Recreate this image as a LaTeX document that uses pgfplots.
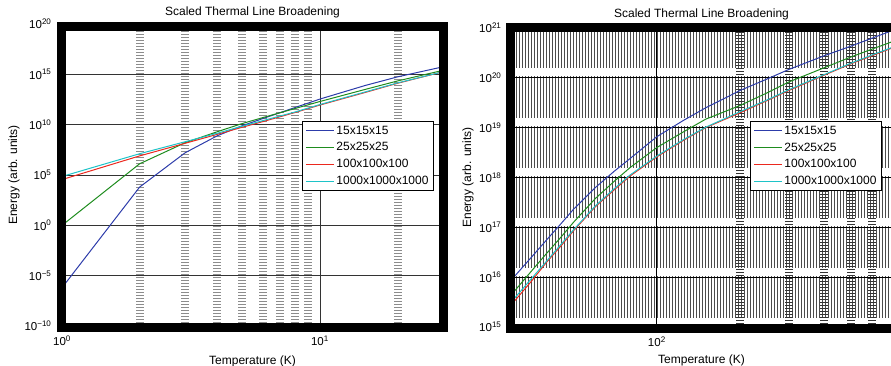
\documentclass[border=0pt]{standalone}
\usepackage{pgfplots}
\pgfplotsset{compat=1.18}
\usepackage{fontspec}
\setmainfont{Liberation Sans}
\usetikzlibrary{patterns.meta}
\definecolor{mblue}{RGB}{45,60,170}
\definecolor{mgreen}{RGB}{30,140,30}
\definecolor{mred}{RGB}{235,40,30}
\definecolor{mcyan}{RGB}{30,195,200}

\pgfplotsset{
  legend image code/.code={\draw[#1, line width=1pt] (0pt,0pt) -- (28pt,0pt);},
}

\begin{document}
\begin{tikzpicture}[x=1pt,y=1pt]

% ---------------- left panel ----------------
\begin{axis}[
  scale only axis, xmode=log, ymode=log, log basis x=10, log basis y=10,
  set layers,
  axis line style={draw=none},
  major tick length=0pt, minor tick length=0pt,
  tick label style={font=\fontsize{11.5}{13}\selectfont},
  yticklabel style={xshift=-7pt},
  xticklabel style={yshift=-6pt},
  label style={font=\fontsize{12}{14}\selectfont},
  every axis title/.style={at={(axis description cs:0.5,1.04)}, anchor=center, font=\fontsize{12}{14}\selectfont},
  title={Scaled Thermal Line Broadening},
  xlabel={Temperature (K)},
  ylabel={Energy (arb. units)},
  xlabel style={at={(axis description cs:0.5,0)}, anchor=north, yshift=-26pt},
  ylabel style={at={(axis description cs:-0.126,0.5)}, anchor=center},
  legend cell align=left,
  legend style={font=\fontsize{12}{14}\selectfont, draw=black, line width=0.8pt,
    anchor=north west, inner xsep=3pt, inner ysep=2.5pt, row sep=3pt,
    at={(axis description cs:0.63,0.679)}},
  xmajorgrids, ymajorgrids, xminorgrids,
  major grid style={black!80, line width=0.8pt},
  at={(62pt,39pt)}, anchor=south west,
  width=381pt, height=302pt,
  xmin=1, xmax=30, ymin=1e-10, ymax=1e20,
  xtick={1,10}, xticklabels={10\textsuperscript{0},10\textsuperscript{1}},
  minor xtick={2,3,4,5,6,7,8,9,20},
  ytick={1e-10,1e-5,1,1e5,1e10,1e15,1e20},
  yticklabels={10\textsuperscript{−10},10\textsuperscript{−5},10\textsuperscript{0},10\textsuperscript{5},10\textsuperscript{10},10\textsuperscript{15},10\textsuperscript{20}},
  minor grid style={black!45, line width=8pt, dash pattern=on 1.4pt off 1.6pt},
]
\addplot[mblue, line width=1pt] coordinates {(1,6.3e-7) (2,6.3e3) (3,1.6e7) (4,7.9e8) (5,7.9e9) (6,4.0e10) (8,5.0e11) (10,3.5e12) (15,7.9e13) (20,5.6e14) (30,5.6e15)};
\addlegendentry{15x15x15}
\addplot[mgreen, line width=1pt] coordinates {(1,1.0) (2,1.3e6) (3,1.6e8) (4,2.0e9) (5,1.3e10) (6,5.0e10) (8,4.0e11) (10,2.0e12) (15,3.2e13) (20,2.2e14) (30,2.5e15)};
\addlegendentry{25x25x25}
\addplot[mred, line width=1pt] coordinates {(1,3.5e4) (2,7.9e6) (3,1.4e8) (4,1.1e9) (5,5.6e9) (6,2.0e10) (8,1.6e11) (10,8.9e11) (15,1.6e13) (20,1.3e14) (30,1.8e15)};
\addlegendentry{100x100x100}
\addplot[mcyan, line width=1pt] coordinates {(1,7.1e4) (2,1.3e7) (3,2.0e8) (4,1.4e9) (5,7.1e9) (6,2.5e10) (8,1.8e11) (10,1.0e12) (15,1.8e13) (20,1.4e14) (30,1.8e15)};
\addlegendentry{1000x1000x1000}
\end{axis}

% ---------------- right panel ----------------
\begin{axis}[
  scale only axis, xmode=log, ymode=log, log basis x=10, log basis y=10,
  set layers,
  axis line style={draw=none},
  major tick length=0pt, minor tick length=0pt,
  tick label style={font=\fontsize{11.5}{13}\selectfont},
  yticklabel style={xshift=-7pt},
  xticklabel style={yshift=-6pt},
  label style={font=\fontsize{12}{14}\selectfont},
  every axis title/.style={at={(axis description cs:0.5,1.045)}, anchor=center, font=\fontsize{12}{14}\selectfont},
  title={Scaled Thermal Line Broadening},
  xlabel={Temperature (K)},
  ylabel={Energy (arb. units)},
  xlabel style={at={(axis description cs:0.5,0)}, anchor=north, yshift=-24pt},
  ylabel style={at={(axis description cs:-0.116,0.5)}, anchor=center},
  legend cell align=left,
  legend style={font=\fontsize{12}{14}\selectfont, draw=black, line width=0.8pt,
    anchor=north west, inner xsep=3pt, inner ysep=2.5pt, row sep=3pt,
    at={(axis description cs:0.628,0.689)}},
  xmajorgrids, ymajorgrids, xminorgrids,
  major grid style={black, line width=0.8pt},
  at={(512pt,38pt)}, anchor=south west,
  width=379pt, height=299pt,
  xmin=30, xmax=700, ymin=1e15, ymax=1e21,
  xtick={100}, xticklabels={10\textsuperscript{2}},
  minor xtick={200,300,400,500,600},
  ytick={1e15,1e16,1e17,1e18,1e19,1e20,1e21},
  yticklabels={10\textsuperscript{15},10\textsuperscript{16},10\textsuperscript{17},10\textsuperscript{18},10\textsuperscript{19},10\textsuperscript{20},10\textsuperscript{21}},
  minor grid style={black!80, line width=8pt, dash pattern=on 1.2pt off 1.8pt},
]
\begin{pgfonlayer}{axis background}
\fill[pattern={Lines[angle=90,distance=3pt,line width=0.7pt]}, pattern color=black!70] (rel axis cs:0,0) rectangle (rel axis cs:1,1);
\fill[white] (axis cs:30,1.07e15) rectangle (axis cs:700,1.55e15);
\fill[white] (axis cs:30,1.07e16) rectangle (axis cs:700,1.55e16);
\fill[white] (axis cs:30,1.07e17) rectangle (axis cs:700,1.55e17);
\fill[white] (axis cs:30,1.07e18) rectangle (axis cs:700,1.55e18);
\fill[white] (axis cs:30,1.07e19) rectangle (axis cs:700,1.55e19);
\fill[white] (axis cs:30,1.07e20) rectangle (axis cs:700,1.55e20);
\end{pgfonlayer}
\addplot[mblue, line width=1pt] coordinates {(30,9.1e15) (35,2.4e16) (40,5.6e16) (45,1.17e17) (50,2.3e17) (60,6.3e17) (70,1.32e18) (80,2.4e18) (100,6.6e18) (125,1.41e19) (150,2.5e19) (200,5.6e19) (250,9.5e19) (300,1.48e20) (400,2.75e20) (500,4.3e20) (600,6.3e20) (700,8.7e20)};
\addlegendentry{15x15x15}
\addplot[mgreen, line width=1pt] coordinates {(30,4.6e15) (35,1.26e16) (40,3.0e16) (45,6.3e16) (50,1.26e17) (60,3.8e17) (70,8.3e17) (80,1.58e18) (100,4.0e18) (125,8.3e18) (150,1.48e19) (200,2.8e19) (250,5.0e19) (300,8.3e19) (400,1.58e20) (500,2.6e20) (600,3.8e20) (700,5.2e20)};
\addlegendentry{25x25x25}
\addplot[mred, line width=1pt] coordinates {(30,2.9e15) (35,7.9e15) (40,2.0e16) (45,4.2e16) (50,8.5e16) (60,2.6e17) (70,5.6e17) (80,1.07e18) (100,2.6e18) (125,5.6e18) (150,1.0e19) (200,2.0e19) (250,3.5e19) (300,5.6e19) (400,1.12e20) (500,1.9e20) (600,2.8e20) (700,3.9e20)};
\addlegendentry{100x100x100}
\addplot[mcyan, line width=1pt] coordinates {(30,3.3e15) (35,8.9e15) (40,2.1e16) (45,4.5e16) (50,8.9e16) (60,2.7e17) (70,5.9e17) (80,1.12e18) (100,2.7e18) (125,5.8e18) (150,1.02e19) (200,2.1e19) (250,3.6e19) (300,5.8e19) (400,1.15e20) (500,1.95e20) (600,2.9e20) (700,4.0e20)};
\addlegendentry{1000x1000x1000}
\end{axis}

% thick MATLAB-style frames
\draw[line width=9pt, line join=miter] (61.5,338) rectangle (443,37.5);
\draw[line width=9pt, line join=miter] (510.5,337.5) rectangle (905,37);
\pgfresetboundingbox
\path (0,0) rectangle (891,365);
\end{tikzpicture}
\end{document}
